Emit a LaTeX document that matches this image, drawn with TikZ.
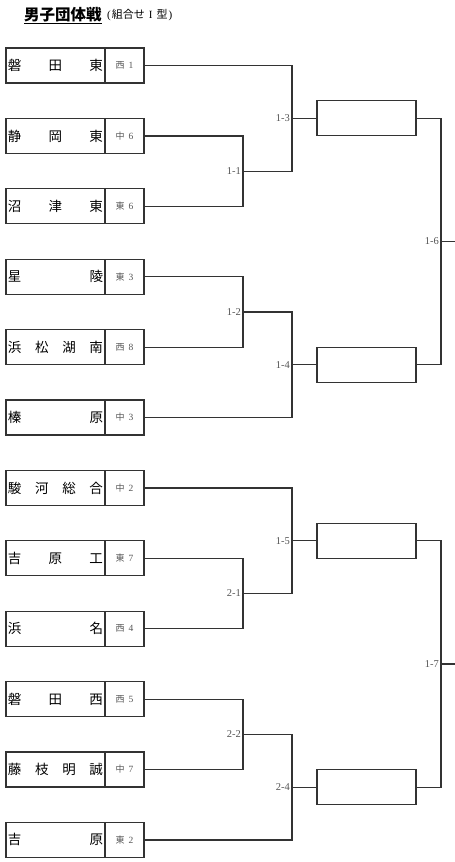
\documentclass[tikz,border=0pt]{standalone}
\usepackage{fontspec}
\setmainfont{Liberation Serif}
\newfontfamily\jp{Noto Sans CJK JP}
\definecolor{ln}{HTML}{333333}
\definecolor{lbl}{HTML}{555555}
\tikzset{
  teambox/.style={draw=ln, line width=1.2pt, minimum width=99pt, minimum height=35pt, inner sep=0pt},
  seedbox/.style={draw=ln, line width=1.2pt, minimum width=39pt, minimum height=35pt, inner sep=0pt, text=lbl},
  winbox/.style={draw=ln, line width=1.2pt, minimum width=99pt, minimum height=35pt, inner sep=0pt},
  conn/.style={draw=ln, line width=1.2pt},
  mlabel/.style={anchor=east, inner sep=0pt, text=lbl, font=\fontsize{10.5pt}{10.5pt}\selectfont, xshift=-2pt}
}
\newcommand{\tname}[1]{\hbox to 95pt{\jp\fontsize{13.5pt}{13.5pt}\selectfont #1}}
\newcommand{\seedtxt}[2]{{\jp\fontsize{9pt}{9pt}\selectfont #1}\hspace{4pt}{\fontsize{9.5pt}{9.5pt}\selectfont #2}}
\begin{document}
\begin{tikzpicture}[x=1pt,y=-1pt]
\useasboundingbox (0,0) rectangle (455,862);
% title
\node[anchor=base west, inner sep=0pt] (title) at (24,20) {\jp\fontsize{15.5pt}{15.5pt}\selectfont\bfseries\underline{男子団体戦}};
\node[anchor=base west, inner sep=0pt] (subtitle) at (107,19) {\fontsize{11pt}{11pt}\selectfont (\hspace{1pt}{\jp 組合せ}\hspace{4pt}I\hspace{4pt}{\jp 型}\hspace{1pt})};
% teams
\node[teambox] (t1) at (55.5,65.5) {\tname{磐\hfill 田\hfill 東}};
\node[seedbox] (s1) at (124.5,65.5) {\seedtxt{西}{1}};
\node[teambox] (t2) at (55.5,135.9) {\tname{静\hfill 岡\hfill 東}};
\node[seedbox] (s2) at (124.5,135.9) {\seedtxt{中}{6}};
\node[teambox] (t3) at (55.5,206.3) {\tname{沼\hfill 津\hfill 東}};
\node[seedbox] (s3) at (124.5,206.3) {\seedtxt{東}{6}};
\node[teambox] (t4) at (55.5,276.7) {\tname{星\hfill 陵}};
\node[seedbox] (s4) at (124.5,276.7) {\seedtxt{東}{3}};
\node[teambox] (t5) at (55.5,347.1) {\tname{浜\hfill 松\hfill 湖\hfill 南}};
\node[seedbox] (s5) at (124.5,347.1) {\seedtxt{西}{8}};
\node[teambox] (t6) at (55.5,417.5) {\tname{榛\hfill 原}};
\node[seedbox] (s6) at (124.5,417.5) {\seedtxt{中}{3}};
\node[teambox] (t7) at (55.5,487.9) {\tname{駿\hfill 河\hfill 総\hfill 合}};
\node[seedbox] (s7) at (124.5,487.9) {\seedtxt{中}{2}};
\node[teambox] (t8) at (55.5,558.3) {\tname{吉\hfill 原\hfill 工}};
\node[seedbox] (s8) at (124.5,558.3) {\seedtxt{東}{7}};
\node[teambox] (t9) at (55.5,628.7) {\tname{浜\hfill 名}};
\node[seedbox] (s9) at (124.5,628.7) {\seedtxt{西}{4}};
\node[teambox] (t10) at (55.5,699.1) {\tname{磐\hfill 田\hfill 西}};
\node[seedbox] (s10) at (124.5,699.1) {\seedtxt{西}{5}};
\node[teambox] (t11) at (55.5,769.5) {\tname{藤\hfill 枝\hfill 明\hfill 誠}};
\node[seedbox] (s11) at (124.5,769.5) {\seedtxt{中}{7}};
\node[teambox] (t12) at (55.5,839.9) {\tname{吉\hfill 原}};
\node[seedbox] (s12) at (124.5,839.9) {\seedtxt{東}{2}};
% match points
\coordinate (m11) at (243,171.1);
\coordinate (m12) at (243,311.9);
\coordinate (m21) at (243,593.5);
\coordinate (m22) at (243,734.3);
\coordinate (m13) at (292,118.3);
\coordinate (m14) at (292,364.7);
\coordinate (m15) at (292,540.7);
\coordinate (m24) at (292,787.1);
\coordinate (m16) at (441,241.5);
\coordinate (m17) at (441,663.9);
\coordinate (e16) at (455,241.5);
\coordinate (e17) at (455,663.9);
% winner boxes
\node[winbox] (f1) at (366.5,118.3) {};
\node[winbox] (f2) at (366.5,364.7) {};
\node[winbox] (f3) at (366.5,540.7) {};
\node[winbox] (f4) at (366.5,787.1) {};
% first round
\draw[conn] (s2.east) -| (m11) |- (s3.east);
\draw[conn] (s4.east) -| (m12) |- (s5.east);
\draw[conn] (s8.east) -| (m21) |- (s9.east);
\draw[conn] (s10.east) -| (m22) |- (s11.east);
% second round
\draw[conn] (s1.east) -| (m13);
\draw[conn] (m11) -| (m13);
\draw[conn] (m12) -| (m14);
\draw[conn] (s6.east) -| (m14);
\draw[conn] (s7.east) -| (m15);
\draw[conn] (m21) -| (m15);
\draw[conn] (m22) -| (m24);
\draw[conn] (s12.east) -| (m24);
\draw[conn] (m13) -- (f1.west);
\draw[conn] (m14) -- (f2.west);
\draw[conn] (m15) -- (f3.west);
\draw[conn] (m24) -- (f4.west);
% final round
\draw[conn] (f1.east) -| (m16);
\draw[conn] (f2.east) -| (m16);
\draw[conn] (m16) -- (e16);
\draw[conn] (f3.east) -| (m17);
\draw[conn] (f4.east) -| (m17);
\draw[conn] (m17) -- (e17);
% labels
\node[mlabel] (l11) at (m11) {1-1};
\node[mlabel] (l12) at (m12) {1-2};
\node[mlabel] (l21) at (m21) {2-1};
\node[mlabel] (l22) at (m22) {2-2};
\node[mlabel] (l13) at (m13) {1-3};
\node[mlabel] (l14) at (m14) {1-4};
\node[mlabel] (l15) at (m15) {1-5};
\node[mlabel] (l24) at (m24) {2-4};
\node[mlabel] (l16) at (m16) {1-6};
\node[mlabel] (l17) at (m17) {1-7};
\end{tikzpicture}
\end{document}
